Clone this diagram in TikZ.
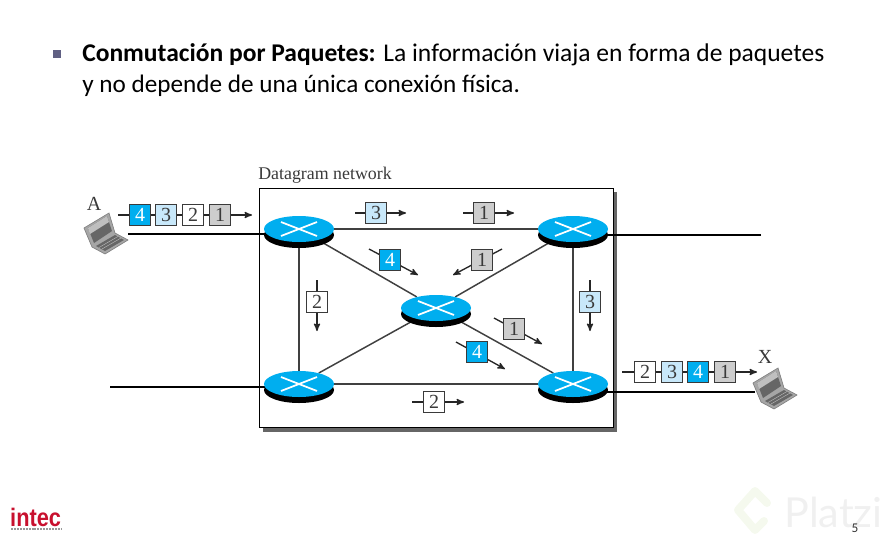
\documentclass[tikz,border=0pt]{standalone}
\usepackage{fontspec}
\setmainfont{Carlito}
\newfontfamily\pktfont{Liberation Serif}
\newfontfamily\logofont{Liberation Sans}
\newfontfamily\markfont{Lato}
\usepackage{xcolor}
\usetikzlibrary{calc}
\usetikzlibrary{arrows}
\usetikzlibrary{backgrounds}
\usetikzlibrary{shapes.geometric}
\usetikzlibrary{shadows}
\definecolor{rtrblue}{HTML}{00AEEF}
\definecolor{pktlight}{HTML}{C8E8FA}
\definecolor{pktgray}{HTML}{CDCDCD}
\definecolor{inkgray}{HTML}{3A3A3A}
\definecolor{intecred}{HTML}{C8102E}
\definecolor{markgreen}{HTML}{F5F9EE}
\tikzset{
 rtr/.style={ellipse, fill=rtrblue, minimum width=52.5pt, minimum height=19.5pt, inner sep=0,
  general shadow={fill=black, shadow xshift=0pt, shadow yshift=-4.5pt}},
 lnk/.style={black!75, line width=1.1pt},
 pline/.style={black!85, line width=1pt, ->, >=stealth'},
 pkt/.style={draw=inkgray, line width=.9pt, minimum size=16pt, inner sep=0, text=inkgray, font=\pktfont\fontsize{15}{15}\selectfont},
 pkta/.style={fill=rtrblue, text=white},
 pktb/.style={fill=pktlight},
 pktc/.style={fill=white},
 pktd/.style={fill=pktgray},
 lbl/.style={text=inkgray, font=\pktfont\fontsize{13.4}{13.4}\selectfont, inner sep=0},
 headline/.style={anchor=base west, inner sep=0, text=black},
}
\newcommand{\laptop}[2]{
 \begin{scope}[shift={(#1,#2)}]
 \filldraw[black!50, fill=black!35, line width=.5pt] (84,228)--(109,213)--(115,233)--(128,240)--(105,254)--(92,247)--cycle;
 \fill[black!60] (88,228)--(107,216)--(112,231)--(94,243)--cycle;
 \fill[black!25] (88,228)--(107,216)--(109,222)--(90,234)--cycle;
 \fill[black!60] (96,246)--(115,235)--(124,240)--(105,251)--cycle;
 \draw[black!25, line width=.3pt] (99,247.5)--(118,236.5) (102,249)--(121,238);
 \end{scope}
}

\begin{document}
\begin{tikzpicture}[x=.75pt,y=-.75pt]
\useasboundingbox (0,0) rectangle (889,543);
% heading
\fill[black!45!blue!25!gray] (53,50) rectangle (61,58);
\node[headline, font=\fontsize{19.15}{19.15}\selectfont] (line1) at (82,61) {\textbf{Conmutación por Paquetes:} La información viaja en forma de paquetes};
\node[headline, font=\fontsize{18.9}{18.9}\selectfont] (line2) at (82,92) {y no depende de una única conexión física.};
% routers
\node[rtr] (ra) at (299,229) {};
\node[rtr] (rb) at (573,229) {};
\node[rtr] (rc) at (436,308) {};
\node[rtr] (rd) at (299,384) {};
\node[rtr] (re) at (573,384) {};
\foreach \r in {ra,rb,rc,rd,re} {
 \draw[white,line width=1.3pt] ($(\r)+(-18,-7)$) -- ($(\r)+(18,7)$);
 \draw[white,line width=1.3pt] ($(\r)+(-18,7)$) -- ($(\r)+(18,-7)$);
}
\coordinate (ina) at (128,234);
\coordinate (outb) at (761,235);
\coordinate (ind) at (110,387);
\coordinate (oute) at (755,392);
\begin{pgfonlayer}{background}
\fill[black!60] (263,192) rectangle (617,431.5);
\filldraw[draw=black, fill=white, line width=.7pt] (259,188) rectangle (613,427);
\draw[lnk] (ra) -- (rb);
\draw[lnk] (rd) -- (re);
\draw[lnk] (ra) -- (rd);
\draw[lnk] (rb) -- (re);
\foreach \r in {ra,rb,rd,re} {
 \draw[lnk] (rc) -- (\r);
}
\draw[black, line width=1.2pt] (ina) -- (ina -| ra);
\draw[black, line width=1.2pt] (outb) -- (outb -| rb);
\draw[black, line width=1.2pt] (ind) -- (ind -| rd);
\draw[black, line width=1.2pt] (oute) -- (oute -| re);
\end{pgfonlayer}
\node[lbl, anchor=base west] (net) at (258,179) {Datagram network};
% laptops
\laptop{0}{0}
\laptop{669}{155}
\node[lbl, font=\pktfont\fontsize{15}{15}\selectfont] (hosta) at (94,204) {A};
\node[lbl, font=\pktfont\fontsize{15}{15}\selectfont] (hostx) at (765,357) {X};
% packets on their own
\foreach \nm/\x/\y/\t/\s/\ax/\ay/\bx/\by in {
 pa/376/213/3/pktb/355/213/406/213,
 pb/484/213/1/pktd/463/213/514/213,
 pc/390/260/4/pkta/369/249/418/275,
 pd/482/260/1/pktd/502/249/453/275,
 pe/317/302/2/pktc/317/280/317/331,
 pf/590/302/3/pktb/590/280/590/331,
 pg/514/329/1/pktd/494/318/542/344,
 ph/477/352/4/pkta/456/342/505/369,
 pi/434/402/2/pktc/412/402/464/402} {
 \coordinate (\nm t) at (\ax,\ay);
 \coordinate (\nm h) at (\bx,\by);
 \draw[pline] (\nm t) -- (\nm h);
 \node[pkt,\s] (\nm) at (\x,\y) {\t};
}
% packets in a row
\coordinate (seqat) at (118,215);
\coordinate (seqah) at (252,215);
\draw[pline] (seqat) -- (seqah);
\foreach \x/\t/\s in {140/4/pkta,166/3/pktb,193/2/pktc,220/1/pktd} {
 \node[pkt,\s] (a\t) at (\x,215) {\t};
}
\coordinate (seqxt) at (622,372);
\coordinate (seqxh) at (757,372);
\draw[pline] (seqxt) -- (seqxh);
\foreach \x/\t/\s in {645/2/pktc,672/3/pktb,698/4/pkta,725/1/pktd} {
 \node[pkt,\s] (x\t) at (\x,372) {\t};
}
% footer
\node[anchor=base west, inner sep=0, xscale=.86, text=intecred, font=\logofont\bfseries\fontsize{19}{19}\selectfont] (logo) at (10,526) {intec};
\draw[black!40, line width=.8pt, dash pattern=on 1.5pt off .7pt] (11,529) -- (61,529);
\draw[markgreen, line width=6pt, line join=round, line cap=round] (767,503) -- (755,491) -- (738,510) -- (755,530) -- (764,521);
\node[anchor=base west, inner sep=0, text=black!6, font=\markfont\fontsize{31}{31}\selectfont] (mark) at (784,527) {Platzi};
\node[anchor=base, inner sep=0, text=black!80, font=\fontsize{10}{10}\selectfont] (pageno) at (855,532) {5};
\end{tikzpicture}
\end{document}
